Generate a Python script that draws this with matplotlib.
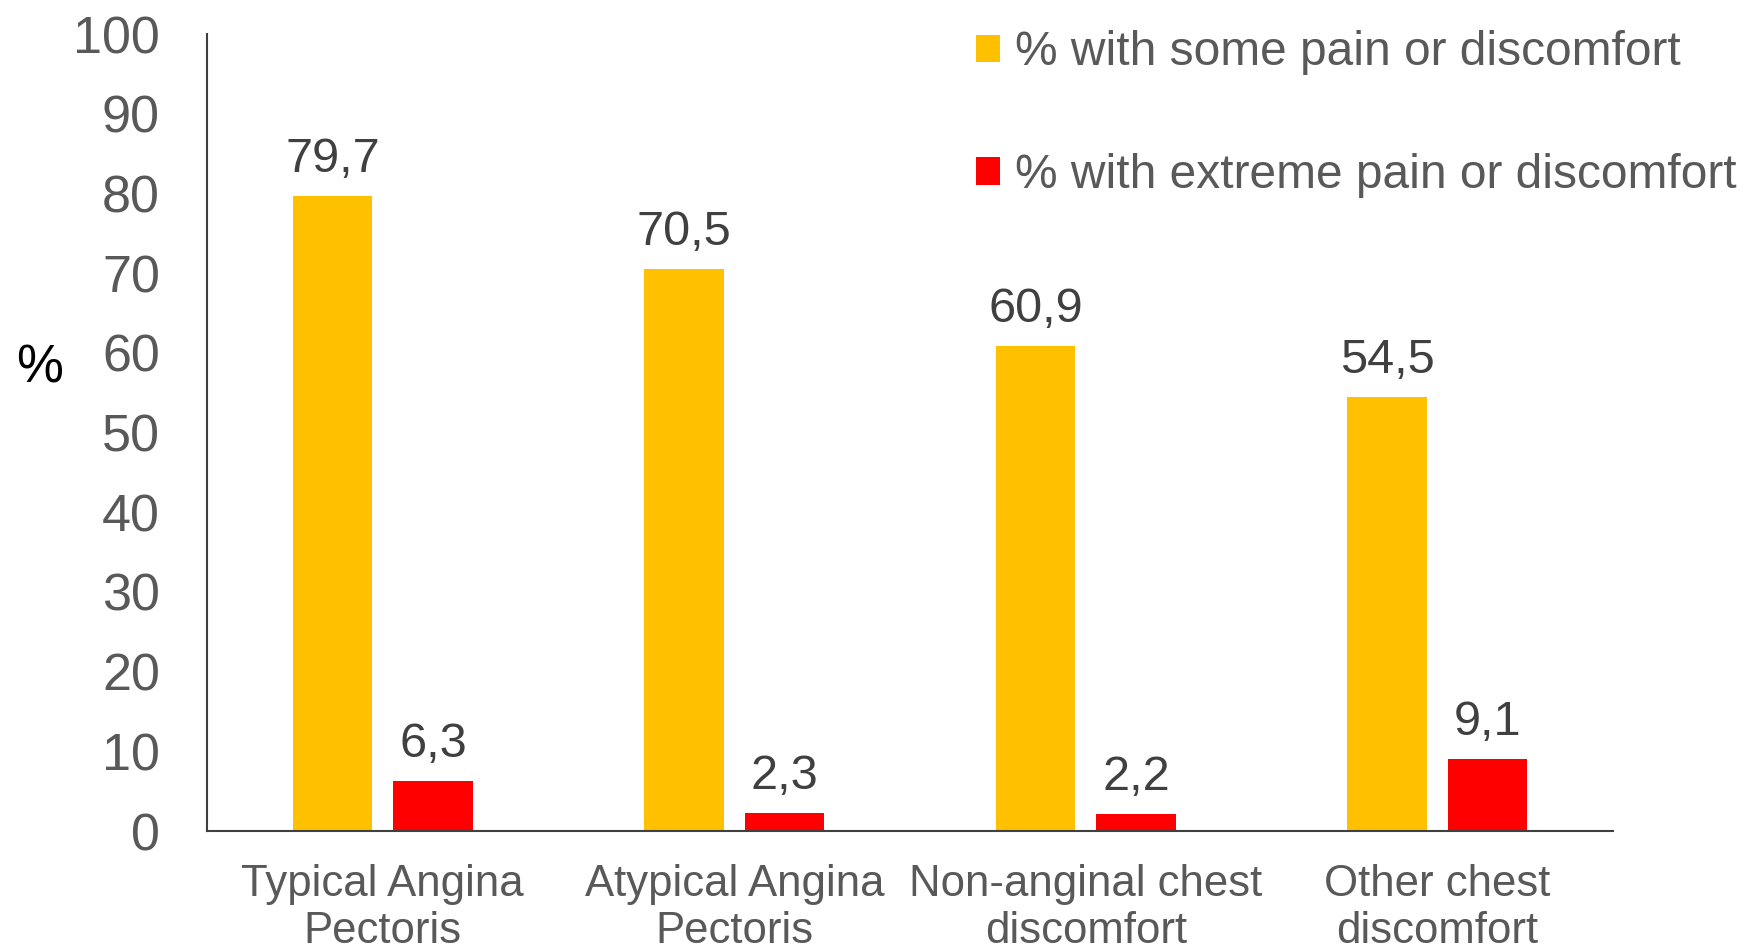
import matplotlib
matplotlib.use("Agg")
import matplotlib.pyplot as plt
import numpy as np

plt.rcParams['font.family'] = ['Liberation Sans', 'DejaVu Sans']

categories = ["Typical Angina\nPectoris", "Atypical Angina\nPectoris",
              "Non-anginal chest\ndiscomfort", "Other chest\ndiscomfort"]
some_pain = [79.7, 70.5, 60.9, 54.5]
extreme_pain = [6.3, 2.3, 2.2, 9.1]
series_names = ["% with some pain or discomfort", "% with extreme pain or discomfort"]

fig = plt.figure(figsize=(17.56, 9.49), dpi=100)
ax = fig.add_axes([0.1179, 0.1243, 0.8007, 0.8397])

x = np.arange(len(categories))
w = 0.226
b1 = ax.bar(x - 0.143, some_pain, w, color="#FFC000", label=series_names[0])
b2 = ax.bar(x + 0.143, extreme_pain, w, color="#FF0000", label=series_names[1])

for bars, vals in ((b1, some_pain), (b2, extreme_pain)):
    for r, v in zip(bars, vals):
        ax.annotate(f"{v:.1f}".replace(".", ","),
                    (r.get_x() + r.get_width() / 2, v),
                    xytext=(0, 10), textcoords="offset points",
                    ha="center", va="bottom", fontsize=35, color="#404040")

ax.set_xlim(-0.5, 3.5)
ax.set_ylim(0, 100)
ax.set_yticks(range(0, 101, 10))
ax.set_xticks(x)
ax.set_xticklabels(categories, linespacing=1.18)
ax.tick_params(axis="y", length=0, pad=34, labelsize=37.5, labelcolor="#595959")
ax.tick_params(axis="x", length=0, pad=24, labelsize=31.5, labelcolor="#595959")

for s in ("top", "right"):
    ax.spines[s].set_visible(False)
for s in ("left", "bottom"):
    ax.spines[s].set_color("#404040")
    ax.spines[s].set_linewidth(1.5)

ax.set_ylabel("%", rotation=0, fontsize=38, color="black", va="center")
ax.yaxis.set_label_coords(-0.119, 0.58)

fig.legend(handles=[b1, b2], loc="upper left", bbox_to_anchor=(0.556, 0.968),
           frameon=False, fontsize=34.5, labelcolor="#595959",
           handlelength=0.5, handleheight=0.5, handletextpad=0.3,
           labelspacing=1.62, borderpad=0, borderaxespad=0)

fig.savefig("out.png", dpi=100)
